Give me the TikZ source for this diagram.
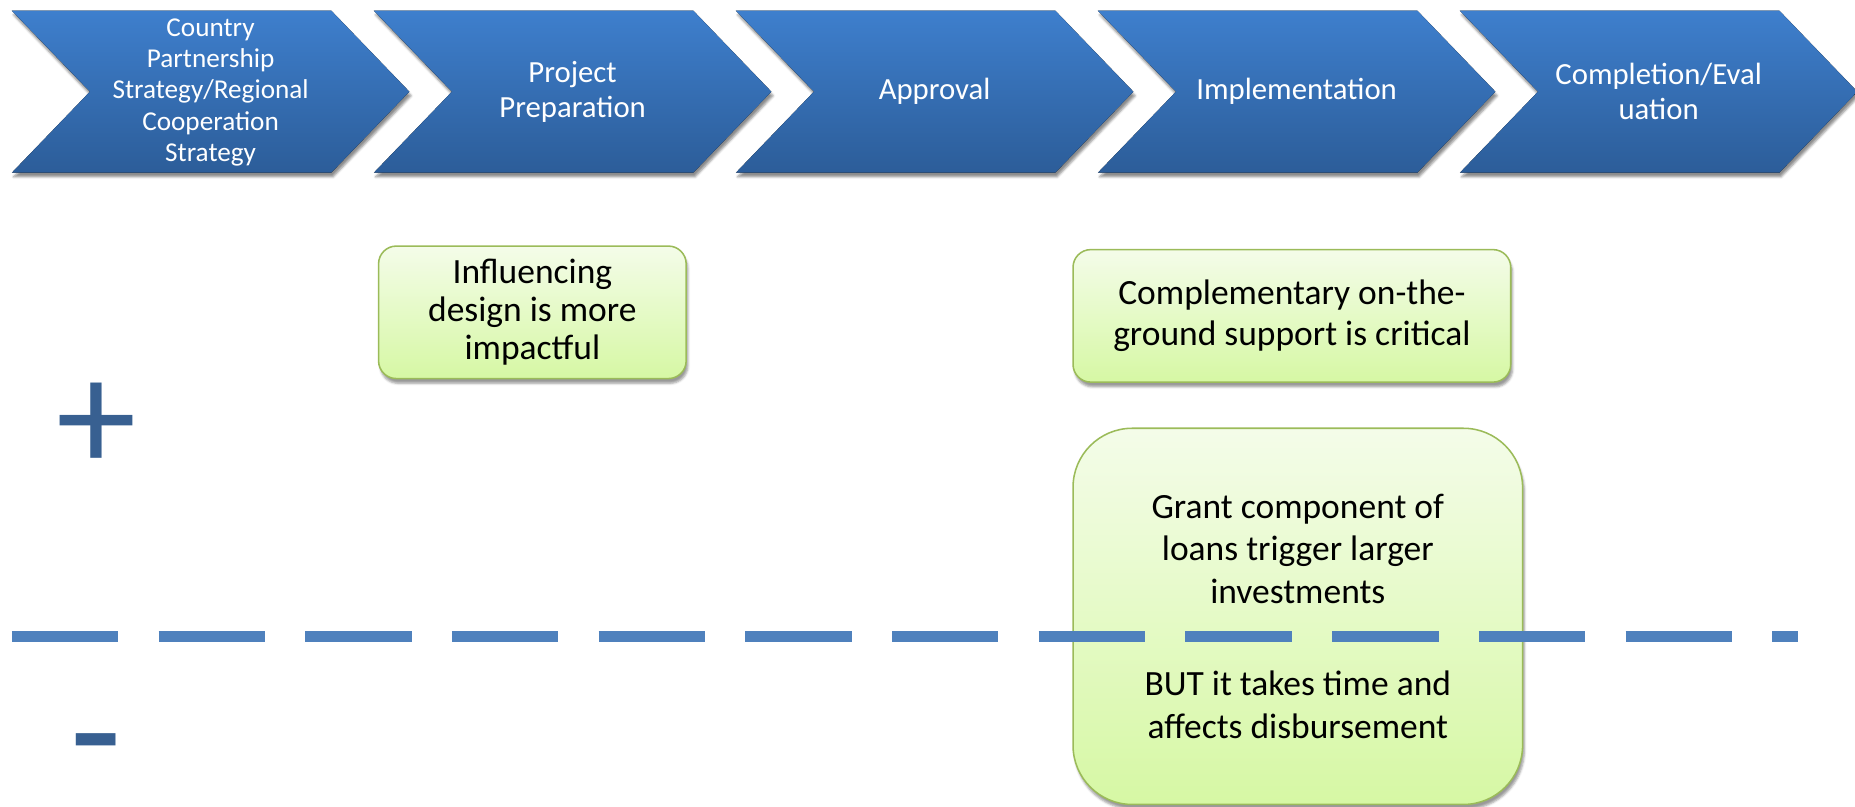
\documentclass[tikz,border=0pt]{standalone}
\usepackage{fontspec}
\setmainfont{Carlito}
\usetikzlibrary{shadows.blur}

\definecolor{chevtop}{RGB}{62,127,205}
\definecolor{chevbot}{RGB}{44,93,153}
\definecolor{notetop}{RGB}{244,252,233}
\definecolor{notebot}{RGB}{214,248,164}
\definecolor{noteline}{RGB}{155,187,89}
\definecolor{dashblue}{RGB}{79,129,189}
\definecolor{signblue}{RGB}{56,96,145}

\tikzset{
  chevron/.style={top color=chevtop, bottom color=chevbot,
    blur shadow={shadow xshift=1.5pt, shadow yshift=-3.5pt, shadow opacity=45}},
  chevtext/.style={text=white, align=center, font=\fontsize{26}{30}\selectfont},
  note/.style={draw=noteline, line width=1.3pt, top color=notetop, bottom color=notebot,
    rounded corners=15pt, align=center, inner sep=0pt,
    font=\fontsize{30}{35}\selectfont,
    blur shadow={shadow xshift=1.5pt, shadow yshift=-4pt, shadow opacity=40}},
  sign/.style={text=signblue, font=\fontsize{136}{136}\selectfont, inner sep=0pt}
}

\begin{document}
\begin{tikzpicture}[x=1pt,y=-1pt]
  \useasboundingbox (0,0) rectangle (1568,682);

  % the five stages
  \foreach \txt [count=\i] in {{Project\\Preparation},{Approval},{Implementation},{Completion/Eval\\uation}}
  {
    \pgfmathsetmacro{\xl}{10+306*\i}
    \fill[chevron] (\xl,9) -- (\xl+270,9) -- (\xl+336,77.5) -- (\xl+270,146)
      -- (\xl,146) -- (\xl+66,77.5) -- cycle;
    \node[chevtext] (stage\i) at (\xl+168,77.5) {\txt};
  }
  \fill[chevron] (10,9) -- (280,9) -- (346,77.5) -- (280,146)
    -- (10,146) -- (76,77.5) -- cycle;
  \node[chevtext, font=\fontsize{23}{26.5}\selectfont] (stage0) at (178,78)
    {Country\\Partnership\\Strategy/Regional\\Cooperation\\Strategy};

  % notes
  \node[note, minimum width=260pt, minimum height=112pt] (design) at (450,264) {};
  \node[align=center, font=\fontsize{30}{32}\selectfont] (designtxt) at (design.center)
    {Influencing\\design is more\\impactful};
  \node[note, minimum width=370pt, minimum height=112pt] (ground) at (1092,267)
    {Complementary on-the-\\ground support is critical};
  \node[note, rounded corners=50pt, minimum width=380pt, minimum height=318pt,
    font=\fontsize{30}{36}\selectfont] (grant) at (1097,521)
    {Grant component of\\loans trigger larger\\investments\\[42pt]BUT it takes time and\\affects disbursement};

  % plus / minus divide
  \coordinate (divl) at (10,538);
  \coordinate (divr) at (1520,538);
  \draw[dashblue, line width=10pt, dash pattern=on 90pt off 34pt] (divl) -- (divr);

  \node[sign] (plus) at (82,361) {+};
  \node[sign, font=\bfseries\fontsize{100}{100}\selectfont, xscale=1.36, transform shape,
    anchor=base] (minus) at (81,654) {-};
\end{tikzpicture}
\end{document}
